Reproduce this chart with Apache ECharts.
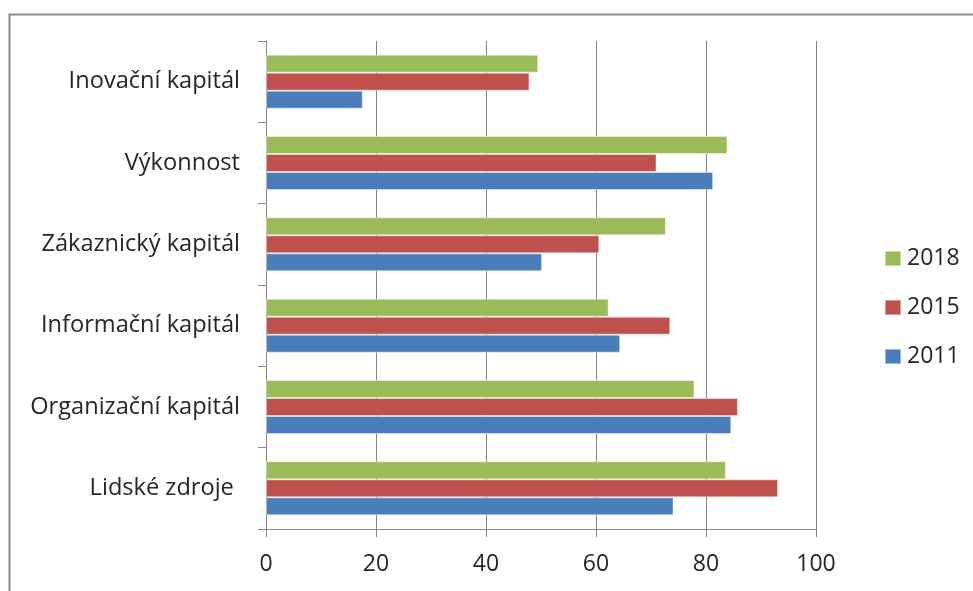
<!DOCTYPE html>
<html>
<head>
<meta charset="utf-8">
<script src="https://cdn.jsdelivr.net/npm/echarts@6/dist/echarts.min.js"></script>
<style>html,body{margin:0;padding:0;background:#fff}#c{width:973px;height:591px}</style>
</head>
<body>
<div id="c"></div>
<script>
const categories = ['Lidské zdroje ', 'Organizační kapitál', 'Informační kapitál', 'Zákaznický kapitál', 'Výkonnost', 'Inovační kapitál'];
const v2011 = [74.1, 84.6, 64.4, 50.2, 81.3, 17.6];
const v2015 = [93.1, 85.8, 73.5, 60.6, 71.0, 47.9];
const v2018 = [83.6, 77.9, 62.3, 72.7, 83.9, 49.5];
const seriesNames = ['2018', '2015', '2011'];
const legendOrder = ['2018', '2015', '2011'];
const xTicks = [0, 20, 40, 60, 80, 100];

const colors = {'2011': '#4A7EBB', '2015': '#C0504D', '2018': '#9BBB59'};
const values = {'2011': v2011, '2015': v2015, '2018': v2018};
const font = '"Open Sans", Lato, sans-serif';

const chart = echarts.init(document.getElementById('c'), null, {renderer: 'canvas'});
chart.setOption({
  animation: false,
  backgroundColor: '#fff',
  graphic: [{
    type: 'rect', left: 7, top: 12, z: -1,
    shape: {x: 0, y: 0, width: 1000, height: 620},
    style: {fill: 'none', stroke: '#8a8a8a', lineWidth: 2}
  }],
  grid: {left: 266, right: 157, top: 41, bottom: 62},
  legend: {
    orient: 'vertical', left: 879, top: 242, itemGap: 26,
    itemWidth: 16, itemHeight: 15, icon: 'rect',
    data: legendOrder,
    textStyle: {fontFamily: font, fontSize: 23, color: '#262626', padding: [0, 0, 0, 1]}
  },
  xAxis: {
    type: 'value', min: xTicks[0], max: xTicks[xTicks.length - 1], interval: 20,
    axisLine: {show: true, lineStyle: {color: '#868686', width: 1}},
    axisTick: {show: true, length: 8, lineStyle: {color: '#868686'}},
    splitLine: {show: true, lineStyle: {color: '#868686', width: 1}},
    axisLabel: {fontFamily: font, fontSize: 23, color: '#262626', margin: 24}
  },
  yAxis: {
    type: 'category', data: categories,
    axisLine: {show: true, lineStyle: {color: '#868686', width: 1}},
    axisTick: {show: true, length: 8, lineStyle: {color: '#868686'}},
    axisLabel: {fontFamily: font, fontSize: 23.6, color: '#262626', margin: 26}
  },
  series: seriesNames.map(n => ({
    name: n, type: 'bar', data: values[n], barWidth: 18, barGap: '0%',
    itemStyle: {color: colors[n], borderColor: 'rgba(255,255,255,0.45)', borderWidth: 1}
  }))
});
</script>
</body>
</html>
